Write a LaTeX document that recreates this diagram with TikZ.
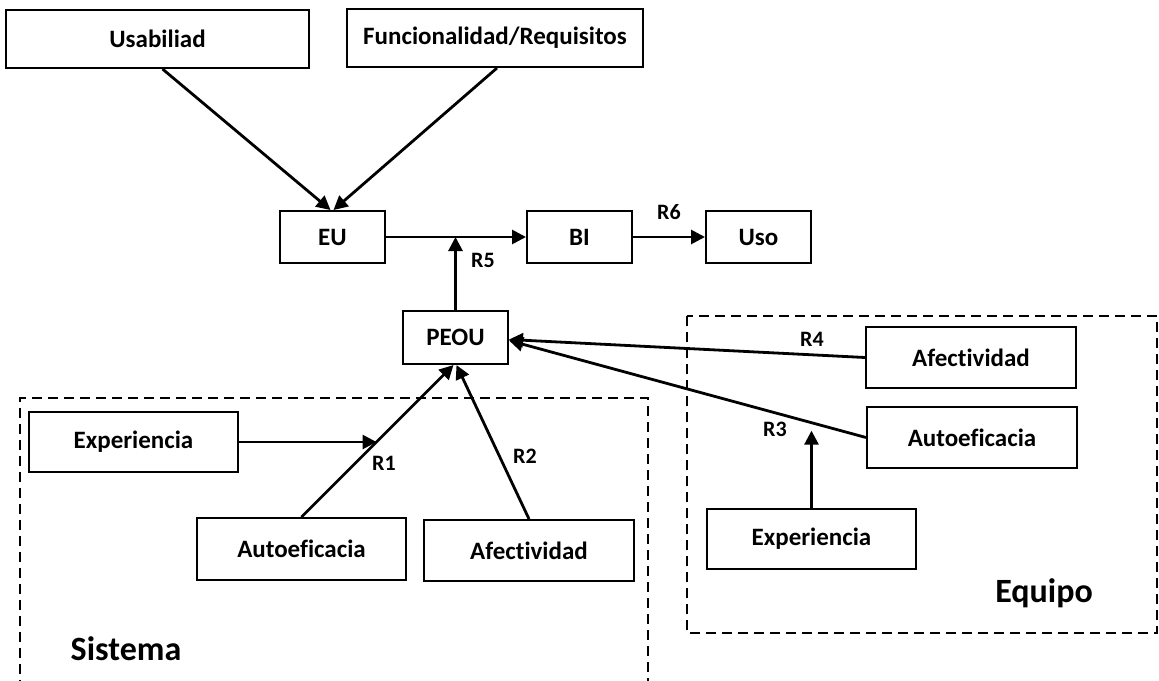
\documentclass[tikz,border=0pt]{standalone}
\usepackage{fontspec}
\setmainfont[Ligatures=NoCommon]{Carlito}
\usetikzlibrary{arrows.meta,calc}
\begin{document}
\begin{tikzpicture}[x=1pt,y=-1pt,
  box/.style={draw,line width=2pt,minimum width=#1,inner sep=0pt,
    font=\fontsize{25}{28}\selectfont\bfseries},
  box/.default=209pt,
  arr/.style={line width=2.8pt,-{Triangle[length=14pt,width=14pt]}},
  lbl/.style={font=\fontsize{22}{26}\selectfont\bfseries,inner sep=0pt},
  grp/.style={font=\fontsize{34}{38}\selectfont\bfseries,inner sep=0pt},
  region/.style={draw,line width=2pt,dash pattern=on 10pt off 6pt}]
\clip (0,0) rectangle (1159,680);
\useasboundingbox (0,0) rectangle (1159,680);

% dashed group frames
\draw[region] (20,690) -- (20,398) -- (648,398) -- (648,690);
\draw[region] (687,316) rectangle (1157,633);

% top factors
\node[box=303pt,minimum height=58pt] (usa) at (157.5,39) {Usabiliad};
\node[box=296pt,minimum height=58pt] (fun) at (495,38) {Funcionalidad/Requisitos};

% main chain
\node[box=105pt,minimum height=52pt] (eu) at (332.5,237) {EU};
\node[box=105pt,minimum height=52pt] (bi) at (579.5,237) {BI};
\node[box=105pt,minimum height=52pt] (uso) at (758.5,237) {Uso};
\node[box=105pt,minimum height=53pt] (peou) at (455.5,337.5) {PEOU};

% Sistema group
\node[box=209pt,minimum height=60pt] (sexp) at (133.5,442) {Experiencia};
\node[box=209pt,minimum height=62pt] (sauto) at (301.5,549) {Autoeficacia};
\node[box=210pt,minimum height=61pt] (safe) at (529,550.5) {Afectividad};

% Equipo group
\node[box=210pt,minimum height=61pt] (eafe) at (971,357.5) {Afectividad};
\node[box=210pt,minimum height=61pt] (eauto) at (972,437.5) {Autoeficacia};
\node[box=209pt,minimum height=60pt] (eexp) at (811.5,539) {Experiencia};

% connectors into EU
\draw[arr] ([xshift=5pt]usa.south) -- ([xshift=-2pt]eu.north);
\draw[arr] ([xshift=2pt]fun.south) -- ([xshift=1pt]eu.north);

% chain
\coordinate (j5) at (peou.north |- eu.east);
\draw[arr] (eu.east) -- (bi.west);
\draw[arr] (peou.north) -- (j5);
\draw[arr] (bi.east) -- (uso.west);

% Sistema links
\coordinate (r1m) at ($(sauto.north)!0.4935!([xshift=-2pt]peou.south)$);
\draw[arr] (sauto.north) -- ([xshift=-2pt]peou.south);
\draw[arr] (safe.north) -- ([xshift=1pt]peou.south);
\draw[arr] (sexp.east) -- (sexp.east -| r1m);

% Equipo links
\coordinate (r3m) at ($(eauto.west)!0.153!([yshift=-3pt]peou.east)$);
\draw[arr] (eafe.west) -- ([yshift=-2pt]peou.east);
\draw[arr] (eauto.west) -- ([yshift=-3pt]peou.east);
\draw[arr] (eexp.north) -- ([yshift=-8pt]eexp.north |- r3m);

% relation labels
\node[lbl] (l6) at (669,212) {R6};
\node[lbl] (l5) at (483,260) {R5};
\node[lbl] (l4) at (812,339) {R4};
\node[lbl] (l3) at (775,429) {R3};
\node[lbl] (l1) at (384,463) {R1};
\node[lbl] (l2) at (525,456) {R2};

% group names
\node[grp] (gs) at (126,649) {Sistema};
\node[grp] (ge) at (1044,593) {Equipo};
\end{tikzpicture}
\end{document}
